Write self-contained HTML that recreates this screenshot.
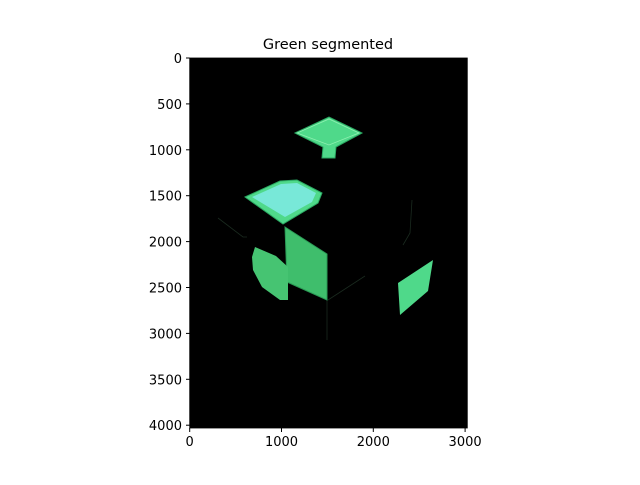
<!DOCTYPE html>
<html><head><meta charset="utf-8"><style>
body{margin:0;background:#fff;width:640px;height:480px;overflow:hidden;font-family:"Liberation Sans","DejaVu Sans",sans-serif}
</style></head><body>
<svg width="640" height="480" viewBox="0 0 640 480" style="font-family:'DejaVu Sans','Liberation Sans',sans-serif">
<text x="328" y="49" font-size="14.5" text-anchor="middle">Green segmented</text>
<g>
<rect x="189.7" y="58" width="277.6" height="370" fill="#000"/>
<g stroke="#1a2a1f" stroke-width="0.8" fill="none">
<path d="M218 218 L243 237 L247 237"/>
<path d="M328 300 L365 276"/>
<path d="M327 300 L327 340"/>
<path d="M412 200 L410 233 L403 245"/>
</g>
<path d="M295 133 L329 117 L362 133 L336 147 L335 158 L322 158 L323 147 Z" fill="#4fd98a" stroke="#2aa862" stroke-width="1"/>
<path d="M297 133 L329 119 L359 133 L329 145 Z" fill="none" stroke="#8ef0b0" stroke-width="0.8"/>
<path d="M245 197 L280 181 L297 180 L322 193 L318 203 L283 224 Z" fill="#4fd98a" stroke="#2aa862" stroke-width="1"/>
<path d="M252 197 L281 184 L297 183 L316 193 L312 202 L285 217 Z" fill="#78e8d8"/>
<path d="M285 227 L327 254 L327 300 L287 282 Z" fill="#3fbe6c" stroke="#2a9a55" stroke-width="1"/>
<path d="M255 247 L276 256 L288 267 L288 300 L280 300 L262 287 L253 270 L252 257 Z" fill="#46c472"/>
<path d="M433 260 L428 291 L400 315 L398 283 Z" fill="#4fd98a"/>
</g>
<g stroke="#000" stroke-width="0.8">
<rect x="189.7" y="58" width="277.6" height="370" fill="none"/>
</g>
<g font-size="13" text-anchor="middle">
<line x1="189.7" y1="428" x2="189.7" y2="432" stroke="#000"/><text x="189.7" y="446">0</text>
<line x1="281.5" y1="428" x2="281.5" y2="432" stroke="#000"/><text x="281.5" y="446">1000</text>
<line x1="373.3" y1="428" x2="373.3" y2="432" stroke="#000"/><text x="373.3" y="446">2000</text>
<line x1="465.1" y1="428" x2="465.1" y2="432" stroke="#000"/><text x="465.1" y="446">3000</text>
</g>
<g font-size="13" text-anchor="end">
<line x1="186" y1="58" x2="189.7" y2="58" stroke="#000"/><text x="182" y="63">0</text>
<line x1="186" y1="103.9" x2="189.7" y2="103.9" stroke="#000"/><text x="182" y="108.9">500</text>
<line x1="186" y1="149.8" x2="189.7" y2="149.8" stroke="#000"/><text x="182" y="154.8">1000</text>
<line x1="186" y1="195.7" x2="189.7" y2="195.7" stroke="#000"/><text x="182" y="200.7">1500</text>
<line x1="186" y1="241.6" x2="189.7" y2="241.6" stroke="#000"/><text x="182" y="246.6">2000</text>
<line x1="186" y1="287.5" x2="189.7" y2="287.5" stroke="#000"/><text x="182" y="292.5">2500</text>
<line x1="186" y1="333.4" x2="189.7" y2="333.4" stroke="#000"/><text x="182" y="338.4">3000</text>
<line x1="186" y1="379.3" x2="189.7" y2="379.3" stroke="#000"/><text x="182" y="384.3">3500</text>
<line x1="186" y1="425.2" x2="189.7" y2="425.2" stroke="#000"/><text x="182" y="430.2">4000</text>
</g>
</svg>
</body></html>
